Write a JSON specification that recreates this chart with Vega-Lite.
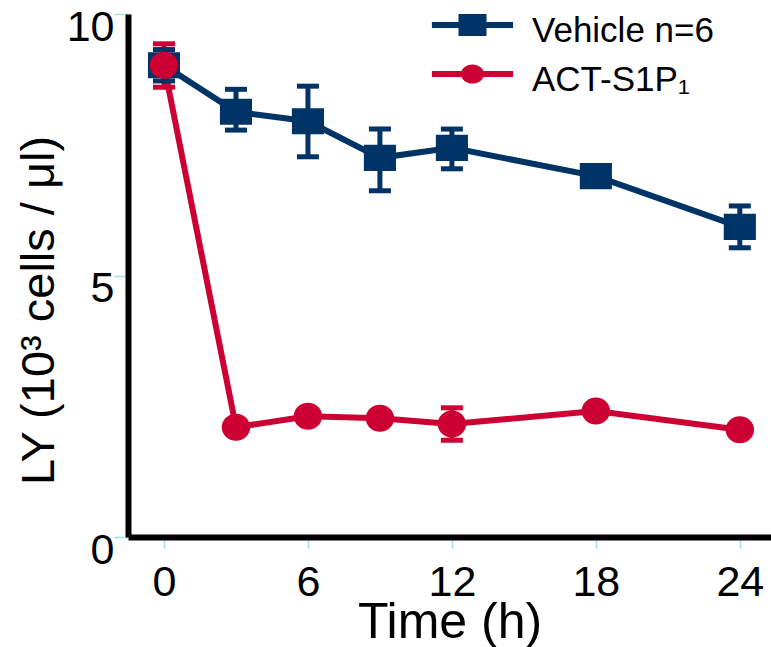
{
  "$schema": "https://vega.github.io/schema/vega-lite/v6.json",
  "width": 643,
  "height": 523,
  "autosize": {"type": "none"},
  "padding": {"left": 128, "top": 14, "right": 0, "bottom": 110},
  "background": "white",
  "config": {"view": {"stroke": null}, "font": "Liberation Sans"},
  "data": {
    "values": [
      {"group": "Vehicle n=6", "time": 0, "mean": 9.02, "lo": 8.72, "hi": 9.32},
      {"group": "Vehicle n=6", "time": 3, "mean": 8.13, "lo": 7.78, "hi": 8.56},
      {"group": "Vehicle n=6", "time": 6, "mean": 7.95, "lo": 7.27, "hi": 8.62},
      {"group": "Vehicle n=6", "time": 9, "mean": 7.25, "lo": 6.62, "hi": 7.8},
      {"group": "Vehicle n=6", "time": 12, "mean": 7.44, "lo": 7.04, "hi": 7.8},
      {"group": "Vehicle n=6", "time": 18, "mean": 6.9, "lo": 6.75, "hi": 7.05},
      {"group": "Vehicle n=6", "time": 24, "mean": 5.93, "lo": 5.53, "hi": 6.33},
      {"group": "ACT-S1P₁", "time": 0, "mean": 9.02, "lo": 8.6, "hi": 9.43},
      {"group": "ACT-S1P₁", "time": 3, "mean": 2.1, "lo": 1.98, "hi": 2.22},
      {"group": "ACT-S1P₁", "time": 6, "mean": 2.31, "lo": 2.19, "hi": 2.43},
      {"group": "ACT-S1P₁", "time": 9, "mean": 2.27, "lo": 2.15, "hi": 2.39},
      {"group": "ACT-S1P₁", "time": 12, "mean": 2.16, "lo": 1.85, "hi": 2.47},
      {"group": "ACT-S1P₁", "time": 18, "mean": 2.41, "lo": 2.31, "hi": 2.51},
      {"group": "ACT-S1P₁", "time": 24, "mean": 2.05, "lo": 1.95, "hi": 2.15}
    ]
  },
  "encoding": {
    "x": {
      "field": "time",
      "type": "quantitative",
      "scale": {"domain": [-1.5, 25.3], "nice": false, "zero": false},
      "axis": {
        "values": [0, 6, 12, 18, 24],
        "title": "Time (h)",
        "titleFont": "Liberation Sans",
        "titleFontSize": 50,
        "titleFontWeight": "normal",
        "titleColor": "black",
        "titleBaseline": "alphabetic",
        "titleY": 100,
        "labelFont": "Liberation Sans",
        "labelFontSize": 43,
        "labelColor": "black",
        "labelBaseline": "alphabetic",
        "labelPadding": 47,
        "labelFlush": false,
        "labelOverlap": false,
        "tickSize": 11,
        "tickWidth": 1.5,
        "tickColor": "#9fe3e8",
        "domainColor": "black",
        "domainWidth": 6,
        "grid": false
      }
    }
  },
  "layer": [
    {
      "mark": {"type": "line", "strokeWidth": 6},
      "encoding": {
        "y": {
          "field": "mean",
          "type": "quantitative",
          "scale": {"domain": [0, 10], "nice": false, "zero": true},
          "axis": {
            "values": [0, 5, 10],
            "title": "LY (10³ cells / μl)",
            "titleFont": "Liberation Sans",
            "titleFontSize": 47,
            "titleFontWeight": "normal",
            "titleColor": "black",
            "titleBaseline": "alphabetic",
            "titleX": -75,
            "titleY": 296,
            "titleAngle": -90,
            "labelFont": "Liberation Sans",
            "labelFontSize": 43,
            "labelColor": "black",
            "labelBaseline": "alphabetic",
            "labelOffset": 26,
            "labelFlush": false,
            "labelOverlap": false,
            "labelPadding": 0,
            "tickSize": 14,
            "tickWidth": 1.5,
            "tickColor": "#9fe3e8",
            "domainColor": "black",
            "domainWidth": 6,
            "grid": false
          }
        },
        "stroke": {
          "field": "group",
          "type": "nominal",
          "scale": {"domain": ["Vehicle n=6", "ACT-S1P₁"], "range": ["#003366", "#cc0033"]},
          "legend": {
            "title": null,
            "orient": "none",
            "legendX": 324.5,
            "legendY": -9,
            "padding": 0,
            "symbolSize": 1600,
            "symbolStrokeWidth": 0,
            "labelFont": "Liberation Sans",
            "labelFontSize": 35,
            "labelColor": "black",
            "labelBaseline": "alphabetic",
            "labelLimit": 500,
            "labelOffset": 39.5,
            "rowPadding": 5,
            "encode": {
              "symbols": {
                "update": {
                  "shape": {"signal": "datum.value === 'Vehicle n=6' ? 'M-2.03,-0.15H2.03V0.15H-2.03Z M-0.7,-0.55H0.7V0.55H-0.7Z' : 'M-2.03,-0.15H2.03V0.15H-2.03Z M-0.58,0A0.58,0.48 0 1,1 0.58,0A0.58,0.48 0 1,1 -0.58,0Z'"},
                  "fill": {"signal": "datum.value === 'Vehicle n=6' ? '#003366' : '#cc0033'"},
                  "strokeWidth": {"value": 0},
                  "opacity": {"value": 1},
                  "fillOpacity": {"value": 1}
                }
              },
              "labels": {
                "update": {"dy": {"value": 17}, "fontSize": {"value": 35}, "baseline": {"value": "alphabetic"}}
              }
            }
          }
        }
      }
    },
    {
      "mark": {"type": "rule", "strokeWidth": 5},
      "encoding": {
        "y": {"field": "lo", "type": "quantitative"},
        "y2": {"field": "hi"},
        "stroke": {
          "field": "group",
          "type": "nominal",
          "scale": {"domain": ["Vehicle n=6", "ACT-S1P₁"], "range": ["#003366", "#cc0033"]}
        }
      }
    },
    {
      "mark": {"type": "tick", "orient": "horizontal", "size": 22, "thickness": 5, "opacity": 1},
      "encoding": {
        "y": {"field": "lo", "type": "quantitative"},
        "fill": {
          "field": "group",
          "type": "nominal",
          "scale": {"domain": ["Vehicle n=6", "ACT-S1P₁"], "range": ["#003366", "#cc0033"]}
        }
      }
    },
    {
      "mark": {"type": "tick", "orient": "horizontal", "size": 22, "thickness": 5, "opacity": 1},
      "encoding": {
        "y": {"field": "hi", "type": "quantitative"},
        "fill": {
          "field": "group",
          "type": "nominal",
          "scale": {"domain": ["Vehicle n=6", "ACT-S1P₁"], "range": ["#003366", "#cc0033"]}
        }
      }
    },
    {
      "transform": [{"filter": "datum.group === 'Vehicle n=6'"}],
      "mark": {"type": "point", "filled": true, "size": 900, "opacity": 1, "strokeWidth": 0, "shape": "M-1.07,-0.87H1.07V0.87H-1.07Z"},
      "encoding": {
        "y": {"field": "mean", "type": "quantitative"},
        "color": {
          "field": "group",
          "type": "nominal",
          "scale": {"domain": ["Vehicle n=6", "ACT-S1P₁"], "range": ["#003366", "#cc0033"]}
        }
      }
    },
    {
      "transform": [{"filter": "datum.group === 'ACT-S1P₁'"}],
      "mark": {"type": "point", "filled": true, "size": 900, "opacity": 1, "strokeWidth": 0, "shape": "M-0.95,0A0.95,0.9 0 1,1 0.95,0A0.95,0.9 0 1,1 -0.95,0Z"},
      "encoding": {
        "y": {"field": "mean", "type": "quantitative"},
        "color": {
          "field": "group",
          "type": "nominal",
          "scale": {"domain": ["Vehicle n=6", "ACT-S1P₁"], "range": ["#003366", "#cc0033"]}
        }
      }
    }
  ]
}
